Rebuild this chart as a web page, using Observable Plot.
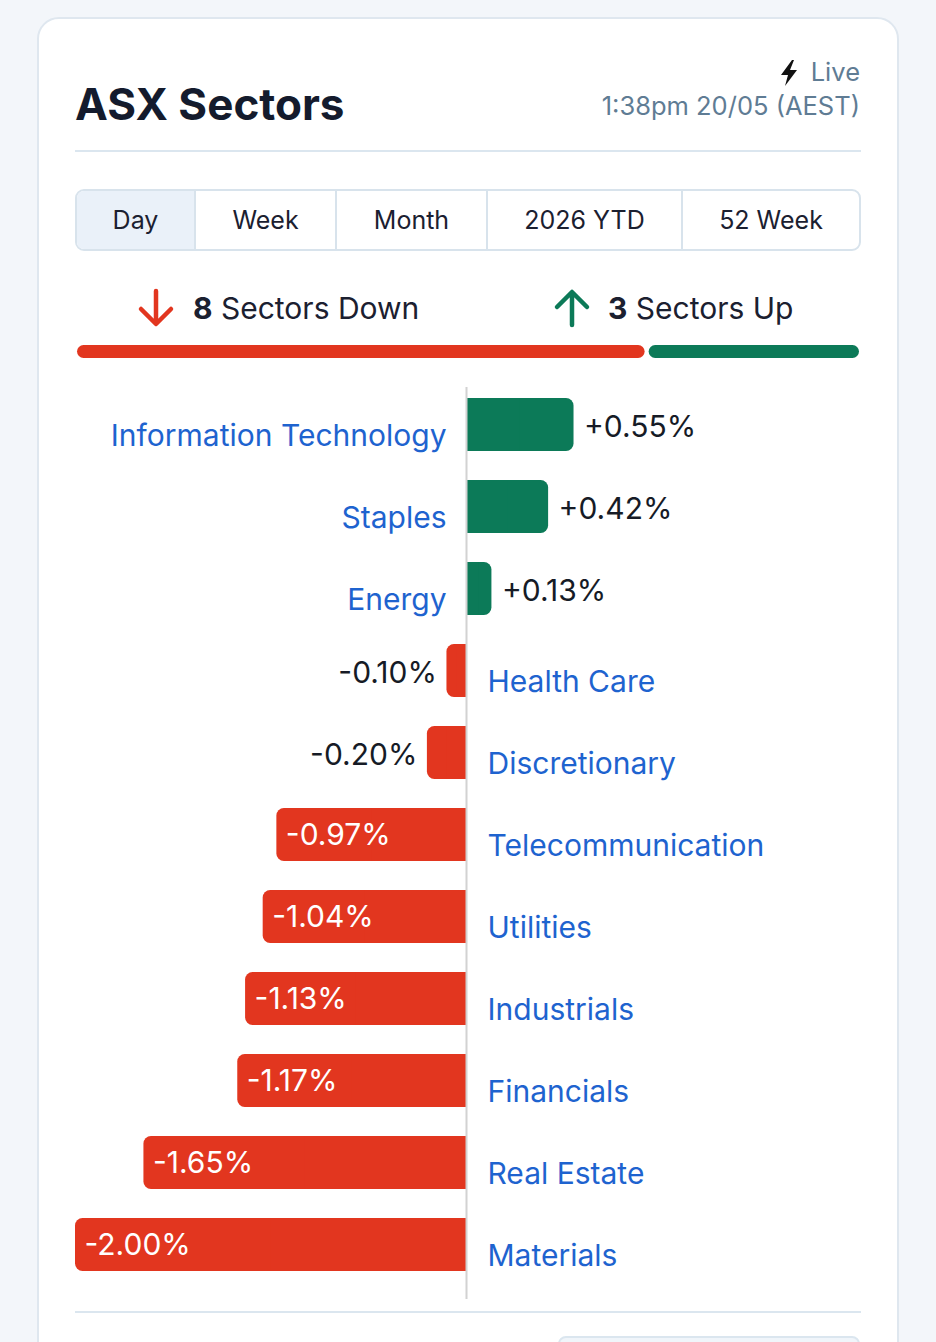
<!DOCTYPE html>
<html>
<head>
<meta charset="utf-8">
<script src="https://cdn.jsdelivr.net/npm/d3@7"></script>
<script src="https://cdn.jsdelivr.net/npm/@observablehq/plot@0.6"></script>
<style>
  html, body { margin: 0; padding: 0; }
  body { width: 936px; height: 1342px; overflow: hidden; background: #f3f6fa; font-family: Inter, "Noto Sans", sans-serif; position: relative; }
  .card { position: absolute; left: 37px; top: 17px; width: 858px; height: 1400px; background: #fff; border: 2px solid #dfe7ef; border-radius: 22px; }
  .abs { position: absolute; white-space: nowrap; }
  .title { left: 75px; top: 77px; font-size: 44px; font-weight: 700; color: #141b2d; letter-spacing: 0px; }
  .meta { right: 76px; font-size: 25.5px; color: #5f7c94; text-align: right; }
  .sep { position: absolute; left: 75px; width: 786px; height: 2px; background: #dbe6ef; }
  .tabs { position: absolute; left: 75px; top: 189px; width: 782px; height: 58px; border: 2px solid #d8e3ec; border-radius: 9px; display: flex; overflow: hidden; }
  .tab { display: flex; align-items: center; justify-content: center; font-size: 25px; color: #1b2030; border-right: 2px solid #d8e3ec; box-sizing: border-box; height: 100%; }
  .tab:last-child { border-right: none; }
  .tab.sel { background: #eaf1f9; }
  .sum { font-size: 30px; color: #1b2030; top: 290px; }
  .sum b { font-weight: 700; }
  #chart { position: absolute; left: 0; top: 378px; }
  #prog { position: absolute; left: 0; top: 340px; }
  .foot { position: absolute; left: 558px; top: 1336px; width: 298px; height: 40px; border: 2px solid #dbe6ef; border-radius: 8px; background: #f0f5fa; }
</style>
</head>
<body>
<div class="card"></div>
<div class="abs title">ASX Sectors</div>
<svg class="abs" style="left:778px;top:59px" width="22" height="28" viewBox="0 0 22 28"><path d="M14 1 L3 16 L10 16 L7 27 L19 11 L12 11 L16 1 Z" fill="#111"/></svg>
<div class="abs meta" style="top:56px">Live</div>
<div class="abs meta" style="top:90px">1:38pm 20/05 (AEST)</div>
<div class="sep" style="top:150px"></div>
<div class="tabs" id="tabs"></div>
<svg class="abs" style="left:136px;top:288px" width="40" height="40" viewBox="0 0 40 40"><path d="M20 3 L20 35 M5 21 L20 36 L35 21" stroke="#e2361f" stroke-width="4.5" fill="none" stroke-linecap="round" stroke-linejoin="round"/></svg>
<div class="abs sum" style="left:193px"><b>8</b> Sectors Down</div>
<svg class="abs" style="left:552px;top:288px" width="40" height="40" viewBox="0 0 40 40"><path d="M20 37 L20 5 M5 19 L20 4 L35 19" stroke="#0c7a58" stroke-width="4.5" fill="none" stroke-linecap="round" stroke-linejoin="round"/></svg>
<div class="abs sum" style="left:608px"><b>3</b> Sectors Up</div>
<div id="prog"></div>
<div id="chart"></div>
<div class="sep" style="top:1311px"></div>
<div class="foot"></div>
<script>
// ---- data ----
const tabLabels = ["Day", "Week", "Month", "2026 YTD", "52 Week"];
const tabWidths = [119, 141, 151, 195, 176];
const sectors = ["Information Technology", "Staples", "Energy", "Health Care", "Discretionary",
  "Telecommunication", "Utilities", "Industrials", "Financials", "Real Estate", "Materials"];
const changes = [0.55, 0.42, 0.13, -0.10, -0.20, -0.97, -1.04, -1.13, -1.17, -1.65, -2.00];
const breadthLabels = ["Down", "Up"];
const breadthCounts = [8, 3];

const RED = "#e2361f", GREEN = "#0c7a58", BLUE = "#1e63cf", INK = "#161b26";

// tabs
const tabs = document.getElementById("tabs");
tabLabels.forEach((t, i) => {
  const d = document.createElement("div");
  d.className = "tab" + (i === 0 ? " sel" : "");
  d.style.width = tabWidths[i] + "px";
  d.textContent = t;
  tabs.appendChild(d);
});

// breadth bar
const breadth = breadthLabels.map((k, i) => ({k, n: breadthCounts[i]}));
const prog = Plot.plot({
  width: 936, height: 24, marginLeft: 75, marginRight: 75, marginTop: 5, marginBottom: 6,
  x: {axis: null, domain: [0, d3.sum(breadthCounts)]},
  y: {axis: null},
  color: {domain: breadthLabels, range: [RED, GREEN]},
  marks: [
    Plot.rectX(breadth, Plot.stackX({x: "n", fill: "k", rx: 6.5, insetLeft: 2, insetRight: 2}))
  ]
});
prog.style.background = "transparent";
document.getElementById("prog").appendChild(prog);

// main chart
const rows = sectors.map((s, i) => ({s, v: changes[i]}));
const pos = rows.filter(d => d.v >= 0);
const neg = rows.filter(d => d.v < 0);
const big = neg.filter(d => d.v <= -0.5);
const small = neg.filter(d => d.v > -0.5);
const fmt = v => (v > 0 ? "+" : "") + v.toFixed(2) + "%";
const F = "Inter, 'Noto Sans', sans-serif";

const chart = Plot.plot({
  width: 936, height: 930,
  marginLeft: 75, marginRight: 79, marginTop: 3, marginBottom: 21,
  x: {domain: [-2, 2], axis: null},
  y: {domain: sectors, axis: null, paddingInner: 0.357, paddingOuter: 0.178},
  style: {background: "transparent", fontFamily: F},
  marks: [
    Plot.rectX(rows, {x1: 0, x2: "v", y: "s", fill: d => d.v >= 0 ? GREEN : RED, rx: 7.5}),
    Plot.rectX(rows, {x1: 0, x2: d => d.v / 2, y: "s", fill: d => d.v >= 0 ? GREEN : RED}),
    Plot.ruleX([0], {stroke: "#d2d2d2", strokeWidth: 2, insetTop: 6, insetBottom: -12}),
    Plot.text(pos, {x: 0, y: "s", text: "s", textAnchor: "end", dx: -20, dy: 11, fill: BLUE, fontSize: 30}),
    Plot.text(neg, {x: 0, y: "s", text: "s", textAnchor: "start", dx: 21, dy: 11, fill: BLUE, fontSize: 30}),
    Plot.text(pos, {x: "v", y: "s", text: d => fmt(d.v), textAnchor: "start", dx: 10, dy: 2, fill: INK, fontSize: 30}),
    Plot.text(small, {x: "v", y: "s", text: d => fmt(d.v), textAnchor: "end", dx: -10, dy: 2, fill: INK, fontSize: 30}),
    Plot.text(big, {x: "v", y: "s", text: d => fmt(d.v), textAnchor: "start", dx: 9, dy: 0, fill: "#fff", fontSize: 30})
  ]
});
document.getElementById("chart").appendChild(chart);
</script>
</body>
</html>
